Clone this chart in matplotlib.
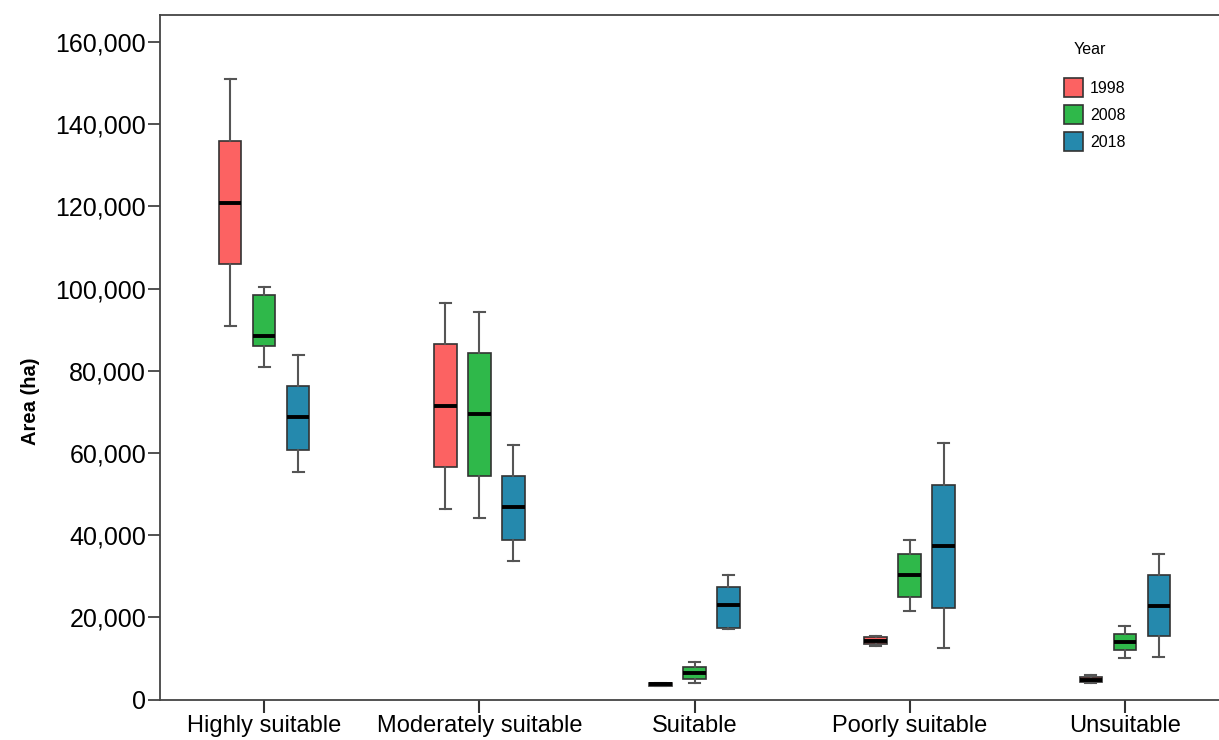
import matplotlib.pyplot as plt
from matplotlib.patches import Patch
from matplotlib.ticker import FuncFormatter

plt.rcParams['font.family'] = ['Liberation Sans', 'DejaVu Sans']

categories = ['Highly suitable', 'Moderately suitable', 'Suitable', 'Poorly suitable', 'Unsuitable']
years = ['1998', '2008', '2018']
colors = ['#fc6262', '#2fb84a', '#2589ad']

# (whisker low, q1, median, q3, whisker high) in ha, one list per year
stats_1998 = [
    (90900, 106000, 120900, 135900, 150900),
    (46400, 56500, 71500, 86500, 96500),
    (3200, 3400, 3700, 3950, 4100),
    (13000, 13400, 14200, 15200, 15450),
    (3900, 4200, 4800, 5400, 5900),
]
stats_2008 = [
    (81000, 86000, 88500, 98500, 100500),
    (44200, 54400, 69500, 84250, 94300),
    (3900, 5100, 6500, 8000, 9050),
    (21500, 24900, 30200, 35400, 38900),
    (10100, 12000, 14100, 15900, 18000),
]
stats_2018 = [
    (55400, 60700, 68800, 76300, 83800),
    (33700, 38800, 46900, 54500, 62000),
    (17200, 17300, 22900, 27400, 30400),
    (12500, 22300, 37400, 52300, 62400),
    (10400, 15400, 22800, 30300, 35400),
]

fig = plt.figure(figsize=(12.19, 7.40), dpi=100)
ax = fig.add_axes([160 / 1219, 1 - 699.5 / 740, 1069 / 1219, 685 / 740])

offset = 0.158
width = 0.105
for k, (series, col) in enumerate(zip([stats_1998, stats_2008, stats_2018], colors)):
    bstats = []
    for lo, q1, med, q3, hi in series:
        bstats.append({'whislo': lo, 'q1': q1, 'med': med, 'q3': q3, 'whishi': hi, 'fliers': []})
    pos = [i + (k - 1) * offset for i in range(len(categories))]
    ax.bxp(bstats, positions=pos, widths=width, capwidths=0.05, patch_artist=True,
           showfliers=False,
           boxprops=dict(facecolor=col, edgecolor='#333333', linewidth=1.2),
           medianprops=dict(color='black', linewidth=2.8),
           whiskerprops=dict(color='#555555', linewidth=1.5),
           capprops=dict(color='#555555', linewidth=1.5))

ax.set_xlim(-0.484, 4.484)
ax.set_ylim(0, 166700)
ax.set_xticks(range(len(categories)))
ax.set_xticklabels(categories, fontsize=17)
ax.set_yticks(range(0, 160001, 20000))
ax.yaxis.set_major_formatter(FuncFormatter(lambda v, p: '{:,.0f}'.format(v)))
ax.tick_params(axis='y', labelsize=18, length=9, width=1.2, color='#333333', pad=1)
ax.tick_params(axis='x', length=9, width=1.5, color='#333333', pad=2)
for s in ax.spines.values():
    s.set_color('#444444')
    s.set_linewidth(1.3)
ax.set_ylabel('Area (ha)', fontsize=14.5, fontweight='bold')
ax.yaxis.set_label_coords(-0.112, 0.436)

fig.text(1074 / 1219, 1 - 50 / 740, 'Year', fontsize=11.5, va='center', ha='left')
handles = [Patch(facecolor=c, edgecolor='#333333', linewidth=1.2) for c in colors]
fig.legend(handles, years, loc='upper left', bbox_to_anchor=(1050 / 1219, 1 - 64 / 740),
           frameon=False, fontsize=11.5, handlelength=1.15, handleheight=1.45,
           handletextpad=0.45, labelspacing=0.5)

fig.savefig('out.png', dpi=100)
